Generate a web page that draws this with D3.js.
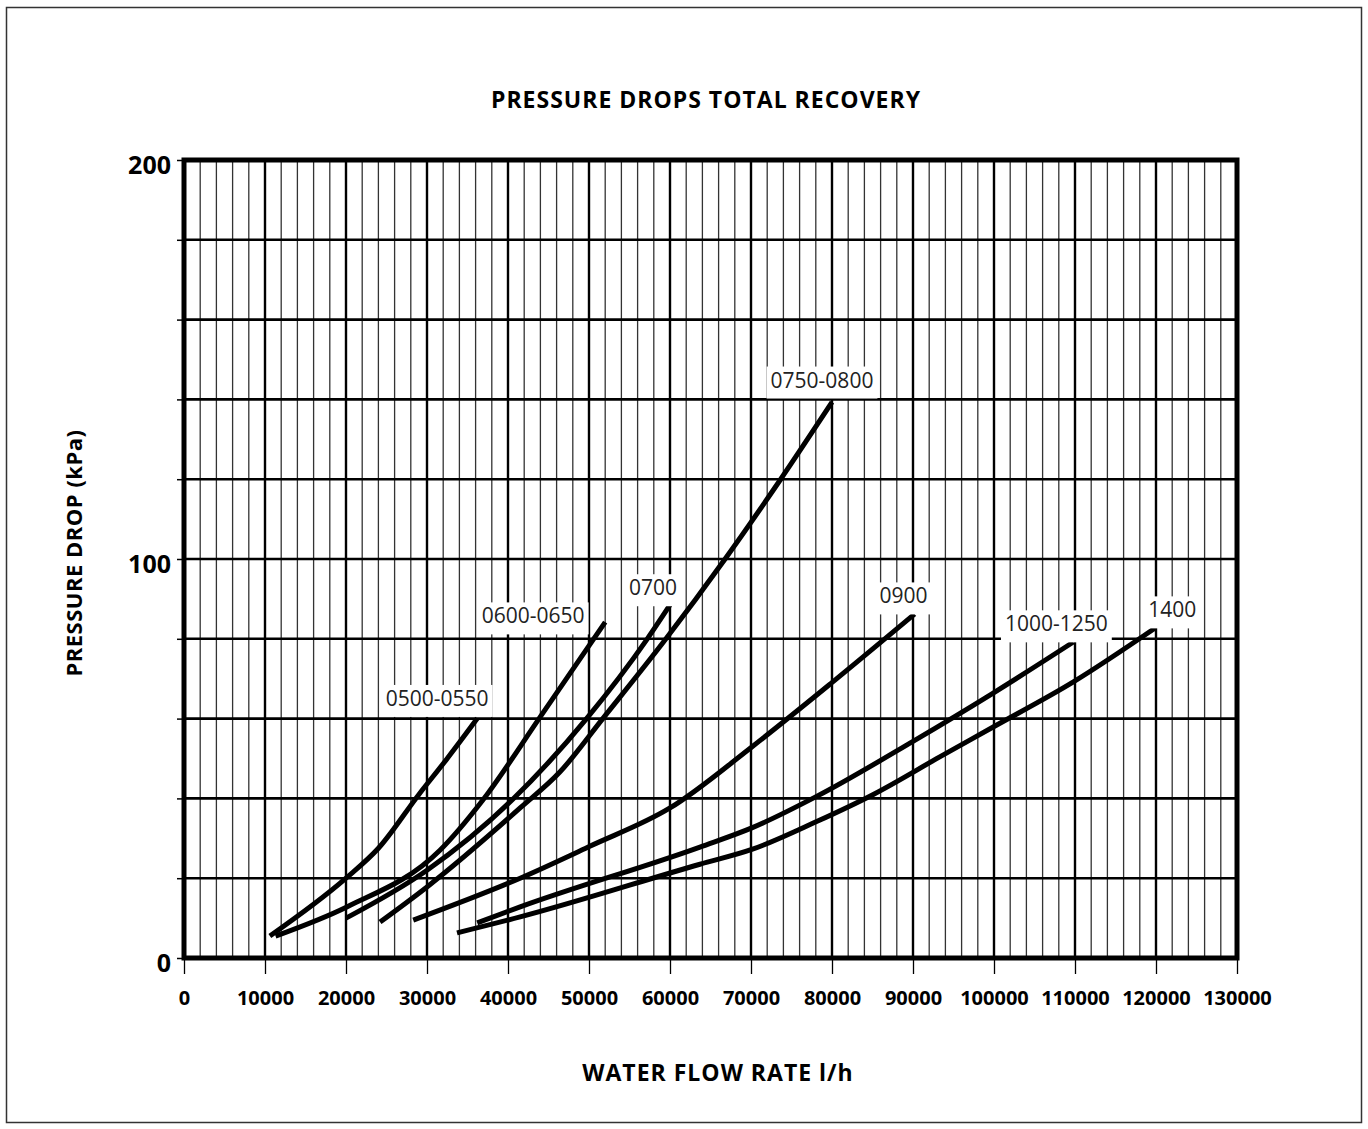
<!DOCTYPE html>
<html>
<head>
<meta charset="utf-8">
<script src="https://cdn.jsdelivr.net/npm/d3@7"></script>
<style>
  body { margin: 0; background: #fff; }
  text { font-family: "Open Sans", "DejaVu Sans", sans-serif; }
</style>
</head>
<body>
<div id="chart"></div>
<script>

var W = 1368, H = 1129;

// curve names, in the order drawn
var curveNames = ["0500-0550", "0600-0650", "0700", "0750-0800", "0900", "1000-1250", "1400"];

// water flow (l/h) and pressure drop (kPa)
var flow0500 = [10600, 20000, 24000, 29000, 32500, 36200];
var drop0500 = [5.5, 20, 27.5, 41, 50, 60];

var flow0600 = [11300, 20100, 31600, 36900, 44000, 52000];
var drop0600 = [5.5, 12.8, 27, 39.6, 60.5, 84.2];

var flow0700 = [20000, 30000, 40500, 49700, 57200, 60000];
var drop0700 = [10, 22, 39.6, 60, 80, 88.5];

var flow0750 = [24200, 30000, 41500, 46400, 51700, 59500, 66800, 73600, 80000];
var drop0750 = [9, 17.8, 37.6, 46.6, 60, 80, 100, 119.8, 139.3];

var flow0900 = [28300, 41500, 50100, 60000, 70100, 80100, 90200];
var drop0900 = [9.5, 20, 28, 37.6, 52.9, 69.2, 86.2];

var flow1000 = [36200, 41500, 63700, 70100, 78100, 90000, 99900, 109800];
var drop1000 = [8.8, 12.8, 27.8, 32.6, 40.5, 54.3, 66.4, 79.2];

var flow1400 = [33700, 41500, 63700, 70100, 78100, 85100, 93300, 99900, 109800, 119900];
var drop1400 = [6.3, 10.3, 23.5, 27.2, 34.2, 41, 50.4, 57.9, 69.2, 82.7];

var xTicks = d3.range(0, 130001, 10000);
var yTicks = d3.range(0, 201, 20);
var yLabelled = [0, 100, 200];

var flows = [flow0500, flow0600, flow0700, flow0750, flow0900, flow1000, flow1400];
var drops = [drop0500, drop0600, drop0700, drop0750, drop0900, drop1000, drop1400];

var curves = curveNames.map(function(n, i) {
  return { name: n, pts: flows[i].map(function(f, j) { return [f, drops[i][j]]; }) };
});

var svg = d3.select("#chart").append("svg")
    .attr("width", W)
    .attr("height", H);

// outer frame
svg.append("rect")
    .attr("x", 6.5).attr("y", 7.5)
    .attr("width", 1355).attr("height", 1115)
    .attr("fill", "none")
    .attr("stroke", "#333")
    .attr("stroke-width", 1.5);

var x = d3.scaleLinear().domain([0, 130000]).range([184, 1237]);
var y = d3.scaleLinear().domain([0, 200]).range([958, 160]);

var grid = svg.append("g");

// minor vertical lines every 2000
grid.selectAll(".vminor")
    .data(d3.range(0, 130001, 2000).filter(function(d) { return d % 10000 != 0; }))
    .enter().append("line")
    .attr("x1", d => x(d)).attr("x2", d => x(d))
    .attr("y1", y(200)).attr("y2", y(0))
    .attr("stroke", "#333")
    .attr("stroke-width", 1.3);

grid.selectAll(".vmajor")
    .data(xTicks)
    .enter().append("line")
    .attr("x1", d => x(d)).attr("x2", d => x(d))
    .attr("y1", y(200)).attr("y2", y(0))
    .attr("stroke", "#000")
    .attr("stroke-width", 2.4);

grid.selectAll(".hline")
    .data(yTicks)
    .enter().append("line")
    .attr("x1", x(0)).attr("x2", x(130000))
    .attr("y1", d => y(d)).attr("y2", d => y(d))
    .attr("stroke", "#000")
    .attr("stroke-width", 2.6);

// axes
var yAxis = d3.axisLeft(y)
    .tickValues(yTicks)
    .tickSize(7)
    .tickPadding(6)
    .tickFormat(d => yLabelled.indexOf(d) >= 0 ? d : "");

var gy = svg.append("g")
    .attr("transform", "translate(" + x(0) + ",0)")
    .call(yAxis);
gy.select(".domain").remove();
gy.selectAll("line").attr("stroke", "#000").attr("stroke-width", 1.5);
gy.selectAll("text")
    .attr("dy", "0.55em")
    .style("font-size", "25px")
    .style("font-weight", "bold")
    .attr("fill", "#000");

var xAxis = d3.axisBottom(x)
    .tickValues(xTicks)
    .tickSize(16)
    .tickPadding(10)
    .tickFormat(d3.format("d"));

var gx = svg.append("g")
    .attr("transform", "translate(0," + y(0) + ")")
    .call(xAxis);
gx.select(".domain").remove();
gx.selectAll("line").attr("stroke", "#000").attr("stroke-width", 1.3);
gx.selectAll("text")
    .attr("y", 47)
    .attr("dy", null)
    .style("font-size", "20px")
    .style("font-weight", "bold")
    .attr("fill", "#000");

// plot border
svg.append("rect")
    .attr("x", x(0)).attr("y", y(200))
    .attr("width", x(130000) - x(0))
    .attr("height", y(0) - y(200))
    .attr("fill", "none")
    .attr("stroke", "#000")
    .attr("stroke-width", 5);

// curves
var line = d3.line()
    .x(d => x(d[0]))
    .y(d => y(d[1]))
    .curve(d3.curveMonotoneX);

svg.selectAll(".curve")
    .data(curves)
    .enter().append("path")
    .attr("d", d => line(d.pts))
    .attr("fill", "none")
    .attr("stroke", "#000")
    .attr("stroke-width", 5);

// labels sit near the end of each curve, on a white box
var labelOffsets = [[-40, -20], [-72, -6], [-17, -17], [-10, -22], [-11, -18], [-17, -18], [17, -18]];

var labels = svg.append("g");
curves.forEach(function(c, i) {
  var last = c.pts[c.pts.length - 1];
  var g = labels.append("g");
  var t = g.append("text")
      .attr("x", x(last[0]) + labelOffsets[i][0])
      .attr("y", y(last[1]) + labelOffsets[i][1])
      .attr("text-anchor", "middle")
      .attr("dy", "0.35em")
      .style("font-size", "21px")
      .attr("fill", "#222")
      .text(c.name);
  var b = t.node().getBBox();
  g.insert("rect", "text")
      .attr("x", b.x - 4).attr("y", b.y + 1)
      .attr("width", b.width + 8).attr("height", b.height + 4)
      .attr("fill", "#fff");
});

// titles
svg.append("text")
    .attr("x", 706).attr("y", 108)
    .attr("text-anchor", "middle")
    .style("font-size", "23px")
    .style("letter-spacing", "1px")
    .style("font-weight", "bold")
    .text("PRESSURE DROPS TOTAL RECOVERY");

svg.append("text")
    .attr("x", 718).attr("y", 1081)
    .attr("text-anchor", "middle")
    .style("font-size", "23px")
    .style("letter-spacing", "1px")
    .style("font-weight", "bold")
    .text("WATER FLOW RATE l/h");

svg.append("text")
    .attr("transform", "translate(82,553) rotate(-90)")
    .attr("text-anchor", "middle")
    .style("font-size", "22px")
    .style("letter-spacing", "0.5px")
    .style("font-weight", "bold")
    .text("PRESSURE DROP (kPa)");

</script>
</body>
</html>
